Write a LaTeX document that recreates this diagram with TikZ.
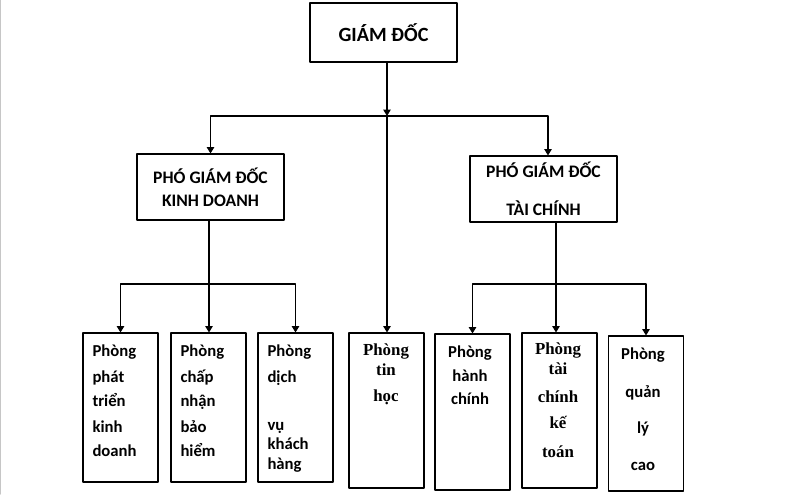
\documentclass[tikz,border=0pt]{standalone}
\usepackage{fontspec}
\setmainfont{Carlito}
\newfontfamily\timesbd{Liberation Serif}
\usetikzlibrary{arrows.meta}
\usetikzlibrary{positioning}

\tikzset{
  hop/.style={draw, line width=0.6pt, inner sep=0pt},
  phong/.style={hop, minimum width=1.5cm},
  chu/.style={inner sep=0pt, font=\bfseries\fontsize{9.5}{14}\selectfont},
}

\begin{document}
\begin{tikzpicture}[line cap=round,line join=round,>={Triangle[length=3.6pt,width=4.2pt]},x=0.02cm,y=-0.02cm,line width=0.6pt]
\useasboundingbox (0,0) rectangle (800,496);
\draw[gray!45] (0.5,0) -- (0.5,494);
% giam doc
\node[hop, minimum width=2.94cm, minimum height=1.18cm, font=\bfseries\fontsize{11.5}{14}\selectfont] (gd) at (383.5,32.5) {GIÁM ĐỐC};
\node[hop, minimum width=2.94cm, minimum height=1.32cm, align=center, font=\bfseries\fontsize{10}{13}\selectfont] (pkd) at (210.5,187) {PHÓ GIÁM ĐỐC\\KINH DOANH};
\node[hop, minimum width=2.94cm, minimum height=1.32cm, align=center, font=\bfseries\fontsize{10}{13}\selectfont] (ptc) at (543.5,189) {PHÓ GIÁM ĐỐC\\[8.5pt]TÀI CHÍNH};
% cac phong
\node[phong, minimum height=2.98cm] (ptkd) at (120.5,407.5) {};
\node[phong, minimum height=2.98cm] (cnbh) at (208.5,407.5) {};
\node[phong, minimum height=2.98cm] (dvkh) at (295.5,407.5) {};
\node[phong, minimum height=3.1cm] (tin) at (386.5,410.5) {};
\node[phong, minimum height=3.12cm] (hc) at (472.5,412) {};
\node[phong, minimum height=3.1cm] (tckt) at (559.5,410.5) {};
\node[phong, minimum height=3.1cm] (ql) at (646,413.5) {};
% chu trong cac phong
\node[chu, anchor=north west, align=left] (t1) at (92,344) {Phòng\\[0.8pt]phát\\triển\\[0.4pt]kinh\\doanh};
\node[chu, anchor=north west, align=left] (t2) at (180,344) {Phòng\\[0.8pt]chấp\\nhận\\[0.4pt]bảo\\hiểm};
\node[chu, anchor=north west, align=left] (t3) at (267,344) {Phòng\\[0.8pt]dịch\\[13.2pt]vụ\\[-3.2pt]khách\\[-2.1pt]hàng};
\node[chu, anchor=north, align=center, font=\timesbd\bfseries\fontsize{9.6}{14}\selectfont] (t4) at (386,343) {Phòng\\[-2.7pt]tin\\[1.3pt]học};
\node[chu, anchor=north, align=center] (t5) at (470,345) {Phòng\\hành\\[-1pt]chính};
\node[chu, anchor=north, align=center, font=\timesbd\bfseries\fontsize{9.6}{14}\selectfont] (t6) at (558,342) {Phòng\\[-2.7pt]tài\\[2.4pt]chính\\[0.7pt]kế\\[2.4pt]toán};
\node[chu, anchor=north, align=center] (t7) at (643,347) {Phòng\\[7.5pt]quản\\[7pt]lý\\[7pt]cao};
% duong noi
\coordinate (bus1) at (387,116);
\coordinate (bus2) at (209,284);
\coordinate (bus3) at (556,284);
\draw[->] (gd.south -| bus1) -- (bus1);
\draw[->] (bus1) -| (pkd);
\draw[->] (bus1) -| (ptc.north -| 548,0);
\draw[->] (bus1) -- (bus1 |- tin.north);
\draw (pkd.south -| bus2) -- (bus2);
\draw[->] (bus2) -| (ptkd);
\draw[->] (bus2) -- (bus2 |- cnbh.north);
\draw[->] (bus2) -| (dvkh);
\draw (ptc.south -| bus3) -- (bus3);
\draw[->] (bus3) -| (hc);
\draw[->] (bus3) -- (bus3 |- tckt.north);
\draw[->] (bus3) -| (ql);
\end{tikzpicture}
\end{document}
